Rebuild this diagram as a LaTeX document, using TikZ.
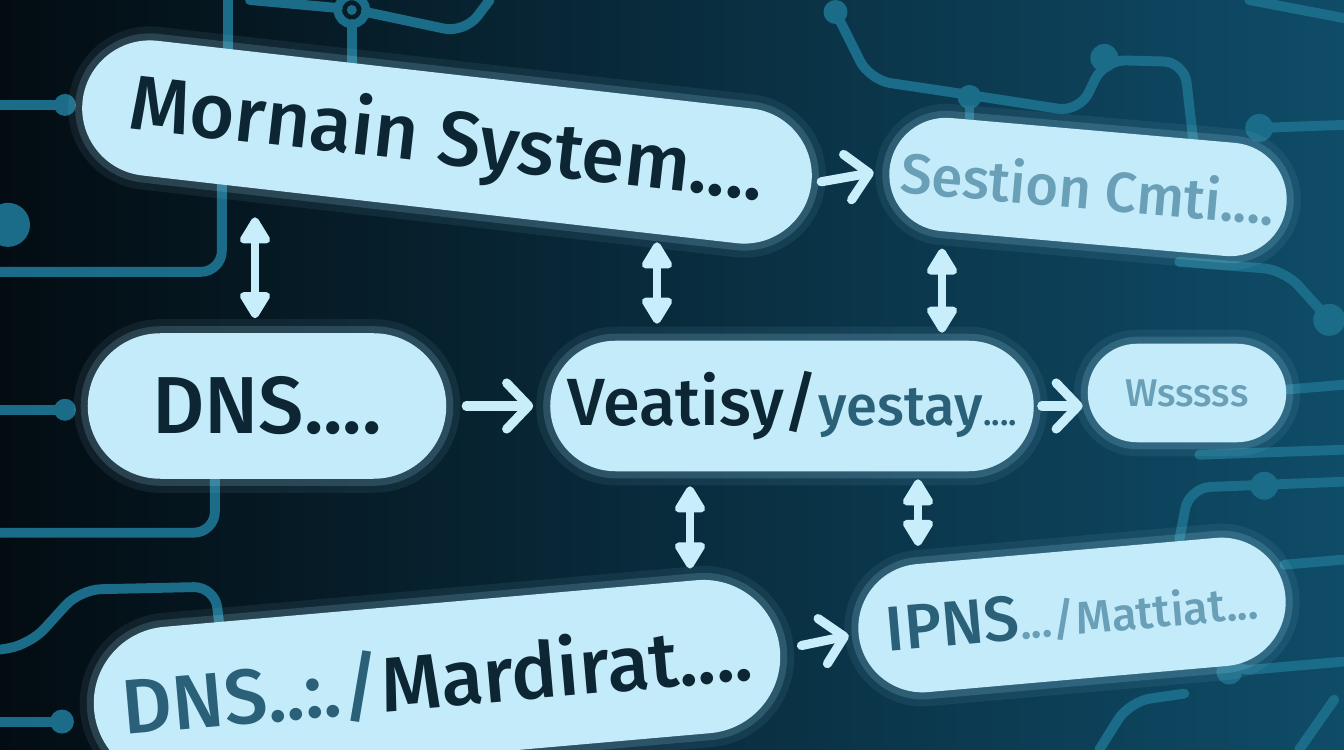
\documentclass[tikz,border=0pt]{standalone}
\usepackage{fontspec}
\setmainfont{Fira Sans}[UprightFont={* Medium}]
\usetikzlibrary{arrows.meta, shapes.misc, positioning}

\definecolor{bgdark}{HTML}{030C12}
\definecolor{bgteal}{HTML}{0F4C68}
\definecolor{wirec}{HTML}{1B6C88}
\definecolor{pillfill}{HTML}{C4EBFA}
\definecolor{pillglow}{HTML}{9ED9F2}
\definecolor{ink}{HTML}{0D2633}
\definecolor{inkmid}{HTML}{2A6078}
\definecolor{inkfade}{HTML}{6A9FB8}
\definecolor{arrowc}{HTML}{C8EEFB}

\tikzset{
	pill/.style={rounded rectangle, fill=pillfill, draw=pillfill, line width=1pt, text=ink, inner sep=0pt,
		preaction={draw=pillglow, line width=9pt, opacity=0.08},
		preaction={draw=pillglow, line width=5pt, opacity=0.18}},
	flow/.style={-{Straight Barb[length=2.2mm, width=4.6mm, round]}, line width=2.6pt, draw=arrowc, line cap=round},
	twoway/.style={{Triangle[length=3mm, width=3.4mm, round]}-{Triangle[length=3mm, width=3.4mm, round]}, line width=2.2pt, draw=arrowc},
	wire/.style={draw=wirec, line width=2.8pt, rounded corners=6pt, line cap=round},
	pad/.style={fill=wirec}
}

\begin{document}
\begin{tikzpicture}
		 \useasboundingbox (0,0) rectangle (13.44,7.5);
		 % background %
		 \shade[left color=bgdark, right color=bgteal] (0,0) rectangle (13.44,7.5);

		 % wires (pixel grid) %
		 \begin{scope}[x=0.01cm, y=-0.01cm, yshift=7.5cm]
		 \draw[wire] (0,105) -- (65,105);
		 \fill[pad] (65,105) circle (1.1mm);
		 \fill[pad] (8,225) circle (2.2mm);
		 \draw[wire] (0,272) -- (222,272) -- (222,170);
		 \draw[wire] (228,0) -- (228,60);
		 \draw[wire] (352,24) -- (352,80);
		 \draw[wire] (366,12) -- (465,33) -- (490,0);
		 \draw[wire] (338,8) -- (250,0);
		 \draw[wirec, line width=2.4pt] (352,10) circle (1.4mm);
		 \fill[pad] (352,10) circle (0.5mm);
		 \draw[wire] (836,12) -- (870,80) -- (970,95) -- (1080,112) -- (1105,60) -- (1185,62) -- (1195,150);
		 \draw[wire] (970,97) -- (970,135);
		 \fill[pad] (836,12) circle (1.2mm);
		 \fill[pad] (970,97) circle (1.2mm);
		 \fill[pad] (1105,58) circle (1.4mm);
		 \draw[wire] (1260,128) -- (1344,125);
		 \fill[pad] (1260,128) circle (1.4mm);
		 \draw[wire] (1250,0) -- (1344,18);
		 \draw[wire] (1180,262) -- (1285,270) -- (1330,320);
		 \fill[pad] (1330,320) circle (1.6mm);
		 \draw[wire] (1285,390) -- (1344,385);
		 \draw[wire] (1200,455) -- (1344,450);
		 \draw[wire] (1180,540) -- (1190,488) -- (1344,482);
		 \fill[pad] (1265,486) circle (1.4mm);
		 \draw[wire] (1285,565) -- (1344,560);
		 \draw[wire] (1228,630) -- (1230,672) -- (1344,662);
		 \fill[pad] (1230,672) circle (1.3mm);
		 \draw[wire] (1100,750) -- (1130,702) -- (1185,694);
		 \draw[wire] (1300,750) -- (1335,700);
		 \draw[wire] (0,410) -- (65,410);
		 \fill[pad] (65,410) circle (1.1mm);
		 \draw[wire] (0,533) -- (215,533) -- (215,470);
		 \draw[wire] (0,650) -- (30,645) -- (80,590) -- (215,587) -- (220,630);
		 \draw[wire] (0,722) -- (62,722);
		 \fill[pad] (62,722) circle (1.2mm);
		 \end{scope}

		 % nodes %
		 \node[pill, minimum width=3.55cm, minimum height=1.42cm] (dns) at (2.67,3.44) {\fontsize{23}{26}\selectfont DNS....};
		 \node[pill, right of = dns, node distance=5.25cm, minimum width=4.8cm, minimum height=1.27cm] (vy)
			{\fontsize{19}{22}\selectfont Veatisy/\textcolor{inkmid}{\fontsize{16}{18}\selectfont yestay\fontsize{10}{12}\selectfont....}};
		 \node[pill, right of = vy, node distance=3.95cm, yshift=0.13cm, minimum width=1.95cm, minimum height=0.95cm] (wn)
			{\fontsize{11}{13}\selectfont\textcolor{inkfade}{Wsssss}};
		 \node[pill, above of = dns, node distance=2.64cm, xshift=1.8cm, rotate=-6.5, minimum width=7.3cm, minimum height=1.32cm] (ms)
			{\fontsize{22}{26}\selectfont Mornain System....};
		 \node[pill, right of = ms, node distance=6.41cm, yshift=-0.45cm, rotate=-5, minimum width=3.95cm, minimum height=1.1cm] (sc)
			{\fontsize{16}{18}\selectfont\textcolor{inkfade}{Sestion Cmti....}\hspace{3mm}};
		 \node[pill, below of = dns, node distance=2.74cm, xshift=1.7cm, rotate=5, minimum width=6.85cm, minimum height=1.5cm] (dm)
			{\fontsize{22}{26}\selectfont\textcolor{inkmid}{DNS..:./}Mardirat....};
		 \node[pill, right of = dm, node distance=6.35cm, yshift=0.65cm, rotate=5, minimum width=4.25cm, minimum height=1.25cm] (ip)
			{\fontsize{18}{20}\selectfont\textcolor{inkmid}{IPNS}\textcolor{inkfade}{\fontsize{13}{15}\selectfont.../Mattiat...}};

		 % columns for the up-down links %
		 \coordinate (c1) at (2.55,0);
		 \coordinate (c2) at (6.57,0);
		 \coordinate (c3) at (9.42,0);
		 \coordinate (c4) at (6.9,0);
		 \coordinate (c5) at (9.18,0);

		 % edges %
		 \draw[flow, shorten <=0.1cm, shorten >=0.16cm] (ms.east) -- (sc.west);
		 \draw[flow, shorten <=0.2cm, shorten >=0.17cm] (dns.east) -- (vy.west);
		 \draw[flow, shorten <=0.08cm, shorten >=0.05cm] (vy.east) -- (vy.east -| wn.west);
		 \draw[flow, shorten <=0.22cm, shorten >=0.1cm] (dm.east) -- (ip.west);
		 \draw[twoway, shorten <=0.08cm, shorten >=0.15cm] (c1 |- ms.south) -- (c1 |- dns.north);
		 \draw[twoway, shorten <=0.33cm, shorten >=0.17cm] (c2 |- ms.south) -- (c2 |- vy.north);
		 \draw[twoway, shorten <=0.05cm, shorten >=0.08cm] (c3 |- sc.south) -- (c3 |- vy.north);
		 \draw[twoway, shorten <=0.15cm, shorten >=0.35cm] (c4 |- vy.south) -- (c4 |- dm.north);
		 \draw[twoway, shorten <=0.08cm, shorten >=0.05cm] (c5 |- vy.south) -- (c5 |- ip.north);
\end{tikzpicture}
\end{document}
